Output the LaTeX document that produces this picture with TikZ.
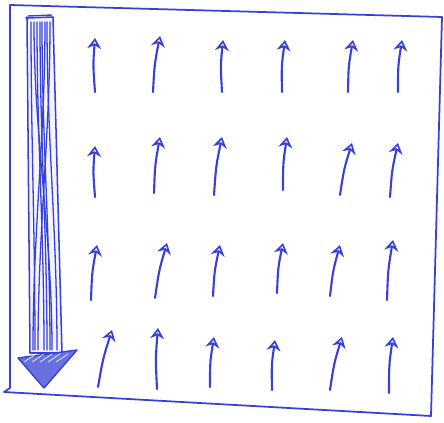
\documentclass[tikz,border=0pt]{standalone}
\usetikzlibrary{arrows.meta,calc}
\definecolor{pen}{RGB}{55,65,215}
\tikzset{
  frame/.style={draw=pen,line width=1.5pt,line join=round},
  flux/.style={pen,line width=1.8pt,line cap=round,
    -{Stealth[open,length=3.2mm,width=4.2mm,line width=1.4pt]}},
  shaft/.style={draw=pen,line width=1.3pt,fill=pen!6,line join=round},
  scribble/.style={pen,line width=1.1pt,line cap=round},
  head/.style={draw=pen,line width=1.2pt,fill=pen!75,line join=round},
}
\begin{document}
\begin{tikzpicture}[x=0.03cm,y=-0.03cm]
  \useasboundingbox (0,0) rectangle (444,423);
  % outer box
  \draw[frame] (10,5) -- (442,17) -- (431,416) -- (4,392) -- (10,388) -- cycle;
  % big downward arrow
  \draw[shaft] (27,18) -- (53,17) -- (62,353) -- (30,353) -- cycle;
  \foreach \a/\b in {31/35,37/44,42/50,47/57,34/52,50/38,45/33,40/47}
    \draw[scribble] (\a,22) .. controls (\a,140) and (\b,230) .. (\b,350);
  \draw[pen,line width=1.2pt] (28,16) -- (52,15);
  \fill[pen] (27,18) circle (1.8);
  \draw[head] (18,358) -- (77,350) -- (44,388) -- cycle;
  \foreach \x in {24,32,40,48,56}
    \draw[white,line width=0.5pt] (\x,362) -- (\x+12,354);
  % small upward arrows, tail/tip
  \foreach \tx/\ty/\hx/\hy in {
      95/92/95/38, 153/92/160/36, 222/92/223/40, 282/92/285/40, 348/92/353/40, 398/92/402/40,
      95/197/95/146, 154/193/160/137, 214/195/222/137, 283/190/287/137, 340/195/352/143, 390/197/398/143,
      91/300/97/245, 155/298/167/243, 213/296/220/245, 277/293/283/243, 330/296/340/245, 387/300/393/240,
      98/387/112/330, 157/389/158/328, 210/387/214/337, 272/390/275/340, 330/390/342/337, 389/393/393/337}
    \draw[flux] (\tx,\ty) .. controls ($(\tx,\ty)!0.5!(\hx,\hy)+(-2,0)$) .. (\hx,\hy);
\end{tikzpicture}
\end{document}
